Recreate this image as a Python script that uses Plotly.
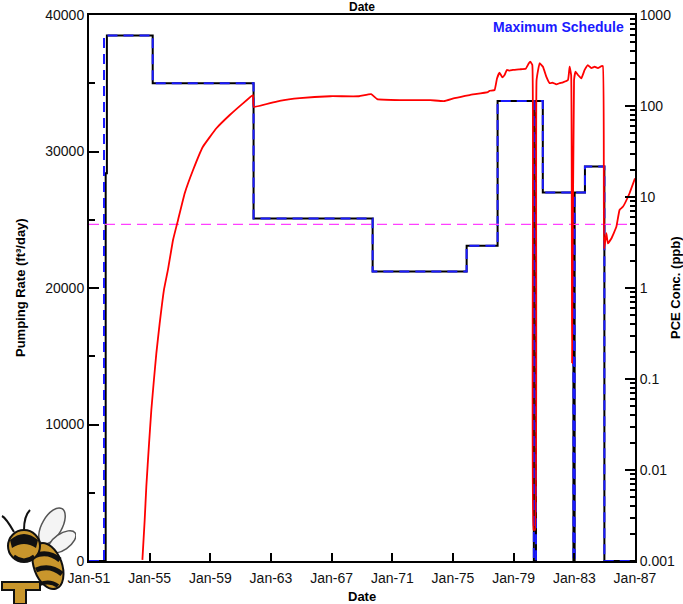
import math
import base64
from datetime import datetime
import plotly.graph_objects as go

# ---------------- data ----------------
# Pumping rate (ft3/day), step series: value holds from year until next year
pump_years = [1951.0, 1952.10, 1952.18, 1955.20, 1961.85, 1969.70, 1975.90, 1977.94,
              1980.33, 1980.47, 1980.92, 1982.94, 1983.02, 1983.70, 1984.98, 1987.0]
pump_rate = [0, 28400, 38500, 35000, 25100, 21200, 23100, 33700,
             0, 33700, 27000, 0, 27000, 28900, 0, 0]

# Maximum schedule (dashed blue)
max_years = [1951.0, 1951.99, 1955.20, 1961.85, 1969.70, 1975.90, 1977.94,
             1980.33, 1980.47, 1980.92, 1982.94, 1983.02, 1983.70, 1984.98, 1987.0]
max_rate = [0, 38500, 35000, 25100, 21200, 23100, 33700,
            0, 33700, 27000, 0, 27000, 28900, 0, 0]

# PCE concentration (ppb)
pce_years = [1954.52, 1954.67, 1954.78, 1954.96, 1955.11, 1955.28, 1955.44, 1955.66,
             1955.94, 1956.21, 1956.54, 1956.87, 1957.31, 1957.86, 1958.51, 1959.40,
             1960.28, 1961.15, 1961.81, 1961.86, 1963.57, 1964.90, 1966.90, 1968.80,
             1969.60, 1970.00, 1971.50, 1973.50, 1974.40, 1975.10, 1976.10, 1977.30,
             1977.41, 1977.74, 1977.90, 1978.07, 1978.25, 1978.40, 1978.55, 1978.73,
             1978.95, 1979.39, 1979.79, 1980.00, 1980.10, 1980.23, 1980.31, 1980.41,
             1980.51, 1980.71, 1980.93, 1981.15, 1981.37, 1981.59, 1981.81, 1982.03,
             1982.25, 1982.58, 1982.69, 1982.79, 1982.85, 1982.98, 1983.08, 1983.24,
             1983.46, 1983.68, 1983.89, 1984.12, 1984.34, 1984.55, 1984.78, 1984.88,
             1984.96, 1985.11, 1985.21, 1985.44, 1985.77, 1985.98, 1986.20, 1986.64,
             1987.0]
pce_conc = [0.00103, 0.0028, 0.0066, 0.0196, 0.0456, 0.0975, 0.191, 0.409,
            0.95, 1.6, 3.37, 5.6, 11.0, 19.8, 35.7, 56.9,
            79.6, 107, 132, 98, 114, 122, 128, 128,
            135, 119, 116, 116, 113, 122, 132, 142,
            147, 150, 201, 232, 207, 219, 249, 245,
            249, 253, 256, 295, 307, 282, 0.0022, 0.0022,
            193, 295, 270, 210, 178, 180, 173, 178,
            182, 193, 270, 219, 0.15, 193, 238, 219,
            201, 249, 282, 261, 270, 261, 274, 274,
            2.7, 4.0, 3.1, 3.5, 4.7, 7.2, 7.8, 11.0,
            16.0]

MCL = 5.0  # ppb
x_range_years = [1951.0, 1987.0]

left_ticks = [0, 10000, 20000, 30000, 40000]
right_tickvals = [0.001, 0.01, 0.1, 1, 10, 100, 1000]
right_ticktext = ["0.001", "0.01", "0.1", "1", "10", "100", "1000"]


def yr2date(y):
    yr = int(math.floor(y))
    start = datetime(yr, 1, 1)
    end = datetime(yr + 1, 1, 1)
    return (start + (y - yr) * (end - start)).strftime("%Y-%m-%d %H:%M:%S")


FONT = "Liberation Sans, Arial, sans-serif"

fig = go.Figure()

fig.add_trace(go.Scatter(
    x=[yr2date(v) for v in pump_years], y=pump_rate, mode="lines",
    line=dict(color="black", width=2, shape="hv"), yaxis="y", showlegend=False))
fig.add_trace(go.Scatter(
    x=[yr2date(v) for v in max_years], y=max_rate, mode="lines",
    line=dict(color="#1a1aff", width=2, shape="hv", dash="10px,6px"), yaxis="y",
    showlegend=False))
fig.add_trace(go.Scatter(
    x=[yr2date(v) for v in x_range_years], y=[MCL, MCL], mode="lines",
    line=dict(color="#ff40ff", width=1.4, dash="10px,6px"), yaxis="y2", showlegend=False))
fig.add_trace(go.Scatter(
    x=[yr2date(v) for v in pce_years], y=pce_conc, mode="lines",
    line=dict(color="#ff0000", width=1.8, shape="spline", smoothing=0.3),
    yaxis="y2", showlegend=False))

minor_log = []
for e in range(-3, 3):
    for m in range(2, 10):
        minor_log.append(m * 10 ** e)

# crude mascot emblem (decorative)
logo_svg = """<svg xmlns='http://www.w3.org/2000/svg' width='76' height='100' viewBox='0 0 76 100'>
<ellipse cx='52' cy='22' rx='10' ry='20' fill='#f4f4f4' stroke='#555' stroke-width='1.5' transform='rotate(30 52 22)'/>
<ellipse cx='62' cy='38' rx='8' ry='16' fill='#f4f4f4' stroke='#555' stroke-width='1.5' transform='rotate(55 62 38)'/>
<path d='M2 78 L40 78 L40 86 L26 86 L26 100 L14 100 L14 86 L2 86 Z' fill='#c9962c' stroke='#111' stroke-width='2'/>
<ellipse cx='48' cy='62' rx='14' ry='24' fill='#c9962c' stroke='#111' stroke-width='2' transform='rotate(-20 48 62)'/>
<path d='M34 52 Q48 46 60 56' stroke='#111' stroke-width='5' fill='none'/>
<path d='M36 66 Q50 60 62 70' stroke='#111' stroke-width='5' fill='none'/>
<path d='M40 80 Q50 76 58 82' stroke='#111' stroke-width='4' fill='none'/>
<circle cx='24' cy='42' r='16' fill='#c9962c' stroke='#111' stroke-width='2'/>
<path d='M10 36 Q24 24 38 36 L36 44 Q24 36 12 44 Z' fill='#111'/>
<path d='M14 52 Q24 60 34 52' stroke='#111' stroke-width='3' fill='none'/>
<path d='M14 28 Q6 14 2 12' stroke='#111' stroke-width='2' fill='none'/>
<path d='M24 26 Q24 12 30 6' stroke='#111' stroke-width='2' fill='none'/>
</svg>"""
logo_uri = "data:image/svg+xml;base64," + base64.b64encode(logo_svg.encode()).decode()

fig.update_layout(
    width=683, height=604,
    margin=dict(l=89, r=48, t=15, b=43, autoexpand=False),
    paper_bgcolor="white", plot_bgcolor="white",
    font=dict(family=FONT, size=14, color="#111"),
    xaxis=dict(
        type="date", automargin=False,
        range=[yr2date(x_range_years[0]), yr2date(x_range_years[1])],
        tick0="1951-01-01", dtick="M48", tickformat="%b-%y",
        ticks="inside", ticklen=8, tickwidth=2, tickcolor="black",
        ticklabelstandoff=3,
        showline=True, linewidth=2, linecolor="black", mirror=True,
        showgrid=False, zeroline=False,
        tickfont=dict(size=14, color="#111"),
    ),
    yaxis=dict(
        automargin=False,
        range=[0, 40000], tickvals=left_ticks, tickformat="d",
        ticks="inside", ticklen=10, tickwidth=2, tickcolor="black",
        minor=dict(ticks="inside", ticklen=6, tickwidth=2, tickcolor="black", dtick=5000, tick0=0),
        showline=True, linewidth=2, linecolor="black",
        showgrid=False, zeroline=False,
        tickfont=dict(size=14, color="#111"),
    ),
    yaxis2=dict(
        automargin=False,
        type="log", range=[-3, 3], overlaying="y", side="right",
        tickvals=right_tickvals, ticktext=right_ticktext,
        ticks="inside", ticklen=10, tickwidth=2, tickcolor="black",
        minor=dict(ticks="inside", ticklen=5, tickwidth=1.5, tickcolor="black",
                   tickmode="array", tickvals=minor_log),
        showline=True, linewidth=2, linecolor="black",
        showgrid=False, zeroline=False,
        tickfont=dict(size=14, color="#111"),
    ),
    images=[dict(source=logo_uri, xref="paper", yref="paper",
                 x=-89 / 546, y=-43 / 546 + 100 / 546,
                 sizex=76 / 546, sizey=100 / 546, xanchor="left", yanchor="top",
                 sizing="stretch", layer="below")],
    annotations=[
        dict(text="<b>Date</b>", xref="paper", yref="paper", x=0.5, y=1,
             yanchor="middle", yshift=8, showarrow=False, borderpad=0,
             font=dict(size=12, color="black")),
        dict(text="<b>Date</b>", xref="paper", yref="paper", x=0.5, y=0,
             yanchor="top", yshift=-26, showarrow=False, font=dict(size=13, color="black")),
        dict(text="<b>Pumping Rate (ft³/day)</b>", xref="paper", yref="paper",
             x=0, xshift=-69, xanchor="center", y=0.5, textangle=-90, showarrow=False,
             font=dict(size=13, color="black")),
        dict(text="<b>PCE Conc. (ppb)</b>", xref="paper", yref="paper",
             x=1, xshift=40, xanchor="center", y=0.5, textangle=-90, showarrow=False,
             font=dict(size=13, color="black")),
        dict(text="<b>Maximum Schedule</b>", xref="paper", yref="paper",
             x=1, xshift=-9, y=1, yshift=-12, xanchor="right", yanchor="middle",
             showarrow=False, font=dict(size=14, color="#1a1aff")),
    ],
)

fig.write_html("out.html")
